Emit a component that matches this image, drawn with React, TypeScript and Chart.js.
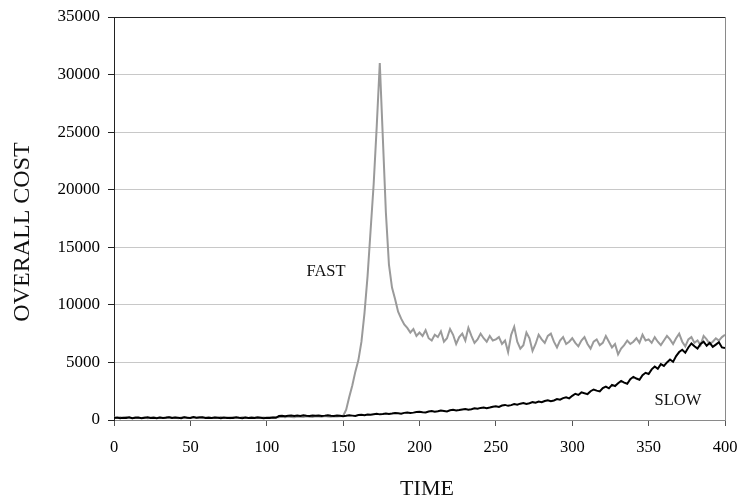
import React, { useEffect, useRef } from "react";
import { Chart, registerables } from "chart.js";

Chart.register(...registerables);

const TIME = [
  0, 2, 4, 6, 8, 10, 12, 14, 16, 18, 20, 22, 24, 26, 28, 30, 32, 34, 36, 38, 40, 42, 44, 46, 48,
  50, 52, 54, 56, 58, 60, 62, 64, 66, 68, 70, 72, 74, 76, 78, 80, 82, 84, 86, 88, 90, 92, 94, 96, 98,
  100, 102, 104, 106, 108, 110, 112, 114, 116, 118, 120, 122, 124, 126, 128, 130, 132, 134, 136, 138, 140, 142, 144, 146, 148,
  150, 152, 154, 156, 158, 160, 162, 164, 166, 168, 170, 172, 174, 176, 178, 180, 182, 184, 186, 188, 190, 192, 194, 196, 198,
  200, 202, 204, 206, 208, 210, 212, 214, 216, 218, 220, 222, 224, 226, 228, 230, 232, 234, 236, 238, 240, 242, 244, 246, 248,
  250, 252, 254, 256, 258, 260, 262, 264, 266, 268, 270, 272, 274, 276, 278, 280, 282, 284, 286, 288, 290, 292, 294, 296, 298,
  300, 302, 304, 306, 308, 310, 312, 314, 316, 318, 320, 322, 324, 326, 328, 330, 332, 334, 336, 338, 340, 342, 344, 346, 348,
  350, 352, 354, 356, 358, 360, 362, 364, 366, 368, 370, 372, 374, 376, 378, 380, 382, 384, 386, 388, 390, 392, 394, 396, 398,
  400,
];

const FAST = [
  210, 180, 240, 170, 260, 200, 150, 230, 190, 170, 220, 160, 200, 240, 180, 210, 170, 230, 260, 190, 220, 160, 210, 250, 180,
  200, 230, 170, 260, 210, 190, 240, 170, 220, 200, 250, 180, 210, 160, 230, 200, 180, 240, 210, 170, 230, 190, 250, 200, 220,
  180, 240, 210, 260, 230, 280, 250, 300, 270, 240, 310, 280, 260, 320, 290, 270, 330, 300, 280, 340, 310, 290, 330, 300, 320,
  350, 900, 2000, 3000, 4200, 5200, 6800, 9300, 12500, 16500, 20500, 25500, 31000, 24500, 18000, 13500, 11500, 10500, 9400, 8800, 8300, 8000, 7600, 7900, 7300,
  7600, 7300, 7800, 7100, 6900, 7400, 7200, 7700, 6800, 7100, 7900, 7400, 6600, 7200, 7500, 6900, 8000, 7300, 6700, 7000, 7500, 7100, 6800, 7300, 6900,
  7000, 7200, 6600, 6900, 5900, 7400, 8100, 6800, 6200, 6500, 7600, 7100, 6000, 6600, 7400, 7000, 6700, 7300, 7500, 6800, 6300, 6900, 7200, 6600, 6800,
  7100, 6700, 6400, 6900, 7200, 6600, 6200, 6800, 7000, 6500, 6700, 7300, 6800, 6300, 6600, 5700, 6200, 6500, 6900, 6600, 6800, 7100, 6700, 7400, 6900,
  7000, 6700, 7200, 6800, 6500, 6900, 7300, 7000, 6600, 7100, 7500, 6800, 6400, 7000, 7200, 6700, 6900, 6500, 7300, 7000, 6600, 6800, 7100, 6900, 7200,
  7400,
];

const SLOW = [
  180, 220, 150, 200, 170, 240, 160, 190, 210, 150, 200, 230, 170, 190, 160, 220, 180, 200, 240, 170, 210, 190, 160, 230, 200,
  170, 250, 190, 210, 230, 180, 200, 170, 220, 190, 160, 210, 180, 200, 170, 230, 190, 160, 210, 180, 200, 170, 220, 190, 160,
  200, 180, 210, 190, 340, 370, 330, 360, 390, 340, 380, 350, 410, 370, 340, 390, 360, 400, 350, 380, 420, 370, 340, 390, 360,
  330, 360, 410, 380, 350, 430, 460, 420, 480, 450, 500, 540, 490, 520, 570, 530, 560, 610, 580, 550, 620, 660, 610, 640, 690,
  720, 680, 650, 740, 780, 720, 760, 820, 790, 750, 840, 880, 830, 870, 920, 960, 900, 940, 1010, 970, 1050, 1090, 1030, 1080, 1150,
  1200, 1140, 1260, 1310, 1230, 1290, 1380, 1330, 1420, 1470, 1390, 1450, 1550, 1500, 1600, 1540, 1650, 1720, 1640, 1700, 1820, 1760, 1900, 1980, 1880,
  2100, 2280, 2180, 2400, 2320, 2250, 2500, 2650, 2550, 2480, 2780, 2900, 2750, 3050, 2950, 3200, 3400, 3250, 3150, 3550, 3750, 3600, 3500, 3900, 4100,
  4000, 4400, 4650, 4450, 4850, 4700, 5000, 5250, 5050, 5550, 5900, 6100, 5850, 6300, 6650, 6400, 6200, 6600, 6800, 6450, 6700, 6350, 6550, 6750, 6300,
  6250,
];

const X_TICK_MIN = 0;
const X_TICK_MAX = 400;
const X_TICK_STEP = 50;
const Y_TICK_MIN = 0;
const Y_TICK_MAX = 35000;
const Y_TICK_STEP = 5000;

const LABELS = [
  { text: "FAST", x: 138.8, y: 12900 },
  { text: "SLOW", x: 369.2, y: 1650 },
];

const SERIF = "'Liberation Serif', 'Times New Roman', serif";

const decorPlugin = {
  id: "decor",
  afterDraw(chart: any) {
    const { ctx, chartArea, scales } = chart;
    ctx.save();
    ctx.strokeStyle = "#8a8a8a";
    ctx.lineWidth = 1;
    ctx.beginPath();
    ctx.moveTo(Math.round(chartArea.right) + 0.5, chartArea.top);
    ctx.lineTo(Math.round(chartArea.right) + 0.5, chartArea.bottom);
    ctx.stroke();

    ctx.fillStyle = "#111";
    ctx.font = `16.5px ${SERIF}`;
    ctx.textAlign = "center";
    ctx.textBaseline = "middle";
    for (const l of LABELS) {
      ctx.fillText(l.text, scales.x.getPixelForValue(l.x), scales.y.getPixelForValue(l.y));
    }

    ctx.font = `22px ${SERIF}`;
    ctx.fillText("TIME", 427, 489);
    ctx.translate(23, 232);
    ctx.rotate(-Math.PI / 2);
    ctx.font = `24px ${SERIF}`;
    ctx.fillText("OVERALL COST", 0, 0);
    ctx.restore();
  },
};

export default function App() {
  const ref = useRef<HTMLCanvasElement | null>(null);

  useEffect(() => {
    if (!ref.current) return;
    const fastData = TIME.map((t, i) => ({ x: t, y: FAST[i] }));
    const slowData = TIME.map((t, i) => ({ x: t, y: SLOW[i] }));
    const chart = new Chart(ref.current, {
      type: "line",
      data: {
        datasets: [
          {
            label: "SLOW",
            data: slowData,
            borderColor: "#000000",
            borderWidth: 2,
            pointRadius: 0,
            tension: 0,
          },
          {
            label: "FAST",
            data: fastData,
            borderColor: "#9a9a9a",
            borderWidth: 2,
            pointRadius: 0,
            tension: 0,
          },
        ],
      },
      options: {
        responsive: false,
        animation: false,
        events: [],
        layout: { padding: { top: 17, right: 13, left: 0, bottom: 0 } },
        plugins: { legend: { display: false }, tooltip: { enabled: false } },
        scales: {
          x: {
            type: "linear",
            min: X_TICK_MIN,
            max: X_TICK_MAX,
            afterFit: (s: any) => {
              s.height = 77;
              s.paddingLeft = 0;
              s.paddingRight = 0;
            },
            ticks: {
              stepSize: X_TICK_STEP,
              color: "#000",
              font: { family: SERIF, size: 16.5 },
              padding: 12,
              maxRotation: 0,
              callback: (v: any) => String(v),
            },
            grid: {
              drawOnChartArea: false,
              drawTicks: true,
              tickLength: 6,
              tickColor: "#555",
            },
            border: { color: "#8a8a8a", width: 1 },
          },
          y: {
            min: Y_TICK_MIN,
            max: Y_TICK_MAX,
            afterFit: (s: any) => {
              s.width = 114;
              s.paddingTop = 0;
              s.paddingBottom = 0;
            },
            ticks: {
              stepSize: Y_TICK_STEP,
              color: "#000",
              font: { family: SERIF, size: 17 },
              padding: 8,
              callback: (v: any) => String(v),
            },
            grid: {
              color: (c: any) => (c.tick && c.tick.value === Y_TICK_MAX ? "#222" : c.tick && c.tick.value === 0 ? "#8a8a8a" : "#c8c8c8"),
              drawTicks: true,
              tickLength: 6,
              tickColor: "#222",
            },
            border: { color: "#222", width: 1 },
          },
        },
      },
      plugins: [decorPlugin],
    });
    return () => chart.destroy();
  }, []);

  return (
    <div style={{ position: "fixed", left: 0, top: 0, width: 738, height: 497, background: "#fff" }}>
      <canvas ref={ref} width={738} height={497} style={{ display: "block" }} />
    </div>
  );
}
